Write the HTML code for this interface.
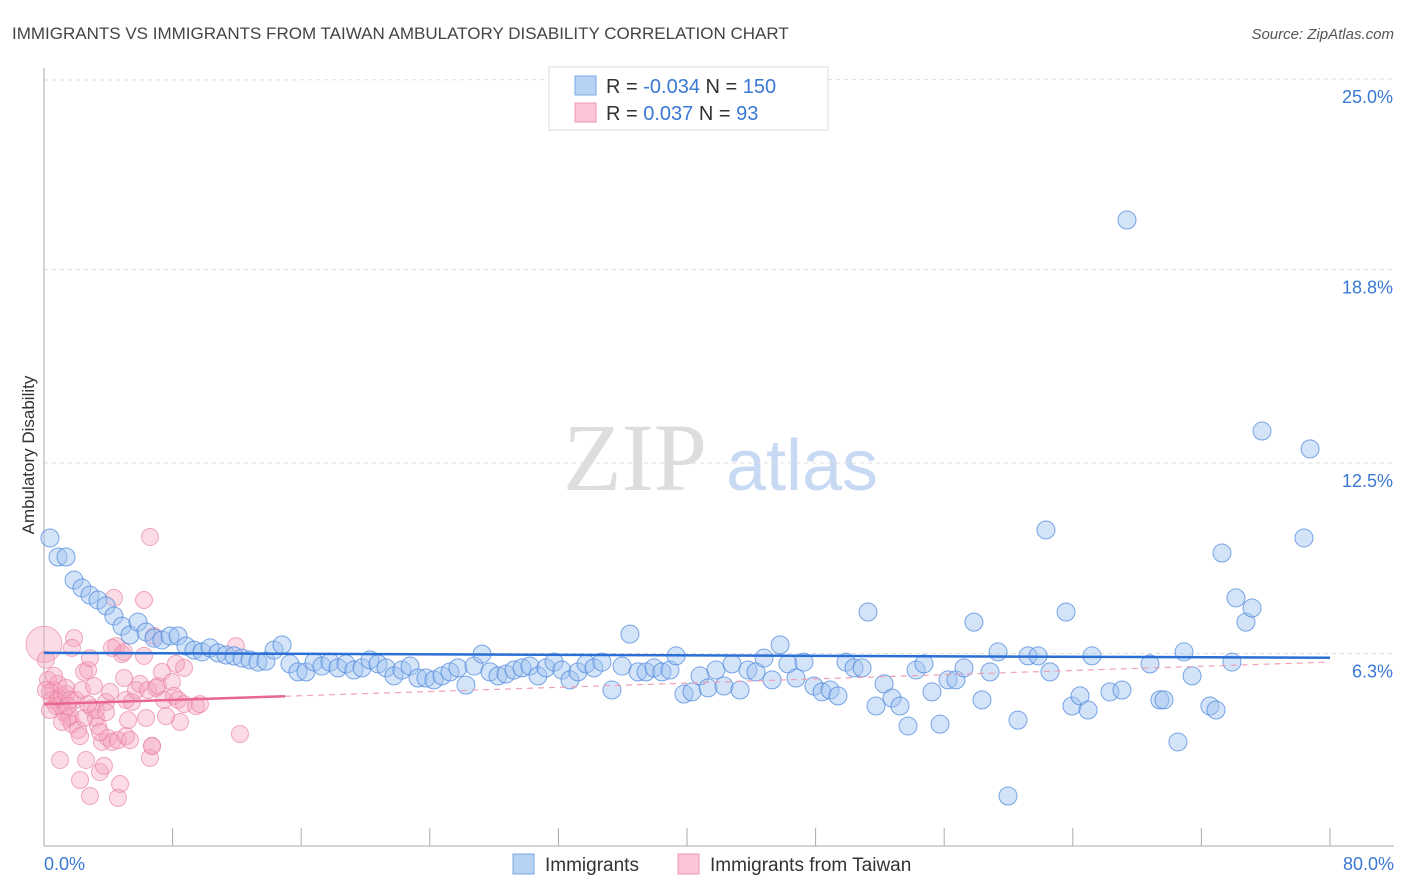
<!DOCTYPE html>
<html><head><meta charset="utf-8"><style>
body{margin:0;background:#fff;font-family:"Liberation Sans",sans-serif;}
svg{display:block}
</style></head><body>
<svg id="c" width="1406" height="892">
<text x="12" y="39" font-size="17" fill="#444">IMMIGRANTS VS IMMIGRANTS FROM TAIWAN AMBULATORY DISABILITY CORRELATION CHART</text>
<text x="1394" y="39" font-size="15" fill="#555" font-style="italic" text-anchor="end">Source: ZipAtlas.com</text>
<g>
<text x="635" y="490" font-size="96" font-family="Liberation Serif,serif" fill="#ddd" text-anchor="middle">ZIP</text>
<text x="802" y="490" font-size="72" fill="#c8daf3" text-anchor="middle">atlas</text>
</g>
<g id="grid"></g>
<g id="pts"></g>
<g id="trend"></g>
<text transform="translate(34,455) rotate(-90)" font-size="17" fill="#333" text-anchor="middle">Ambulatory Disability</text>
<text x="44" y="870" font-size="18" fill="#3a78d4">0.0%</text>
<text x="1394" y="870" font-size="18" fill="#3a78d4" text-anchor="end">80.0%</text>
<g>
<rect x="549" y="67" width="279" height="63" fill="#fff" stroke="#ddd"/>
<rect x="575" y="76" width="21" height="19" fill="#b8d2f4" stroke="#7aa8e6"/>
<rect x="575" y="103" width="21" height="19" fill="#fbc6d6" stroke="#ee96b3"/>
<text x="606" y="93" font-size="20" fill="#333">R = <tspan fill="#3a78d4">-0.034</tspan>   N = <tspan fill="#3a78d4">150</tspan></text>
<text x="606" y="120" font-size="20" fill="#333">R =   <tspan fill="#3a78d4">0.037</tspan>   N =    <tspan fill="#3a78d4">93</tspan></text>
</g>
<g>
<rect x="513" y="854" width="21" height="20" fill="#b8d2f4" stroke="#7aa8e6"/>
<text x="545" y="871" font-size="19" fill="#333">Immigrants</text>
<rect x="678" y="854" width="21" height="20" fill="#fbc6d6" stroke="#ee96b3"/>
<text x="710" y="871" font-size="19" fill="#333">Immigrants from Taiwan</text>
</g>
</svg>
<script>
const yTicks=[25.0,18.8,12.5,6.3];
const yTickLabels=["25.0%","18.8%","12.5%","6.3%"];
const xTicks=[0,10,20,30,40,50,60,70,80,90,100];
const bluePx=[[50,538],[58,557],[66,557],[74,580],[82,588],[90,595],[98,600],[106,606],[114,616],[122,626],[130,635],[138,622],[146,632],[154,638],[162,640],[170,636],[178,636],[186,646],[194,650],[202,652],[210,648],[218,653],[226,655],[234,656],[242,658],[250,660],[258,662],[266,661],[274,650],[282,645],[290,664],[298,672],[306,672],[314,662],[322,666],[330,662],[338,668],[346,664],[354,670],[362,668],[370,660],[378,664],[386,668],[394,676],[402,670],[410,666],[418,678],[426,678],[434,680],[442,676],[450,672],[458,668],[466,685],[474,666],[482,654],[490,672],[498,676],[506,674],[514,670],[522,668],[530,666],[538,676],[546,668],[554,662],[562,670],[570,680],[578,672],[586,664],[594,668],[602,662],[612,690],[622,666],[630,634],[638,672],[646,672],[654,668],[662,672],[670,670],[676,656],[684,694],[692,692],[700,676],[708,688],[716,670],[724,686],[732,664],[740,690],[748,670],[756,672],[764,658],[772,680],[780,645],[788,664],[796,678],[804,662],[814,686],[822,692],[830,690],[838,696],[846,662],[854,668],[862,668],[868,612],[876,706],[884,684],[892,698],[900,706],[908,726],[916,670],[924,664],[932,692],[940,724],[948,680],[956,680],[964,668],[974,622],[982,700],[990,672],[998,652],[1008,796],[1018,720],[1028,656],[1038,656],[1046,530],[1050,672],[1066,612],[1072,706],[1080,696],[1088,710],[1092,656],[1110,692],[1122,690],[1127,220],[1150,664],[1160,700],[1164,700],[1178,742],[1184,652],[1192,676],[1210,706],[1216,710],[1222,553],[1232,662],[1236,598],[1246,622],[1252,608],[1262,431],[1304,538],[1310,449]];
const pinkPx=[[46,660],[48,680],[50,692],[52,700],[54,690],[56,706],[58,698],[60,705],[62,696],[64,712],[66,694],[68,718],[70,716],[72,724],[74,638],[76,700],[78,730],[80,736],[82,690],[84,672],[86,760],[88,670],[90,658],[92,708],[94,686],[96,718],[98,726],[100,772],[102,742],[104,766],[106,702],[108,738],[110,692],[112,742],[114,598],[116,646],[118,740],[120,784],[122,654],[124,678],[126,700],[128,720],[132,702],[136,690],[140,684],[144,656],[146,718],[148,690],[150,758],[152,746],[154,636],[156,688],[158,686],[162,672],[164,700],[172,682],[174,696],[178,700],[180,722],[184,704],[196,706],[200,704],[236,646],[240,734],[144,600],[150,537],[60,760],[80,780],[90,796],[118,798],[124,652],[72,648],[96,710],[84,718],[100,732],[112,648],[58,684],[66,688],[70,700],[88,704],[106,712],[126,736],[130,740],[152,746],[184,668],[176,664],[166,716],[50,710],[62,722],[54,676],[68,706],[46,690]];
// data arrays (percent values)
const blueX=bluePx.map(p=>+((p[0]-44)/16.075).toFixed(2));
const blueY=bluePx.map(p=>+((847-p[1])/30.72).toFixed(2));
const pinkX=pinkPx.map(p=>+((p[0]-44)/16.075).toFixed(2));
const pinkY=pinkPx.map(p=>+((847-p[1])/30.72).toFixed(2));
const blueTrend=[6.32,6.16];
const pinkTrend=[4.65,6.02];
const X0=44,X1=1330;
function sx(v){return X0+v*(X1-X0)/80;}
function sy(v){return 847-v*30.72;}
const NS="http://www.w3.org/2000/svg";
function mk(t,a,p){const e=document.createElementNS(NS,t);for(const k in a)e.setAttribute(k,a[k]);p.appendChild(e);return e;}
const grid=document.getElementById('grid');
yTicks.forEach((t,i)=>{
 const l=mk('line',{x1:X0,x2:1394,y1:sy(t)-(i==0?-1:0),y2:sy(t),stroke:'#ddd','stroke-dasharray':'4,4'},grid);
 
 
 const tx=mk('text',{x:1393,y:sy(t)+24,'font-size':18,fill:'#3a78d4','text-anchor':'end'},grid);
 tx.textContent=yTickLabels[i];
 
 
});
const ax=mk('line',{x1:X0,x2:X0,y1:68,y2:846,stroke:'#aaa'},grid);


const bx=mk('line',{x1:X0,x2:1394,y1:846,y2:846,stroke:'#aaa'},grid);


xTicks.forEach(t=>{
 const l=mk('line',{x1:sx(t*0.8),x2:sx(t*0.8),y1:828,y2:846,stroke:'#aaa'},grid);
 
 
});
const pts=document.getElementById('pts');
const big=mk('circle',{cx:sx(0),cy:sy(6.6),r:18,fill:'rgba(244,166,191,0.4)',stroke:'rgba(232,127,160,0.6)'},pts);


pinkX.forEach((x,i)=>{
 const c=mk('circle',{cx:sx(x),cy:sy(pinkY[i]),r:8.5,fill:'rgba(244,166,191,0.4)',stroke:'rgba(232,127,160,0.65)'},pts);
 
 
});
blueX.forEach((x,i)=>{
 const c=mk('circle',{cx:sx(x),cy:sy(blueY[i]),r:9,fill:'rgba(160,195,240,0.45)',stroke:'rgba(70,130,220,0.7)'},pts);
 
 
});
const tr=document.getElementById('trend');
const bl=mk('line',{x1:sx(0),y1:sy(blueTrend[0]),x2:sx(80),y2:sy(blueTrend[1]),stroke:'#2a6fd6','stroke-width':2.5},tr);


const pEnd=15;
const pMid=pinkTrend[0]+(pinkTrend[1]-pinkTrend[0])*pEnd/80;
const pl=mk('line',{x1:sx(0),y1:sy(pinkTrend[0]),x2:sx(pEnd),y2:sy(pMid),stroke:'#e8668f','stroke-width':2.5},tr);


const pd=mk('line',{x1:sx(pEnd),y1:sy(pMid),x2:sx(80),y2:sy(pinkTrend[1]),stroke:'#eea0b8','stroke-width':1.2,'stroke-dasharray':'6,5'},tr);


</script>
</body></html>
